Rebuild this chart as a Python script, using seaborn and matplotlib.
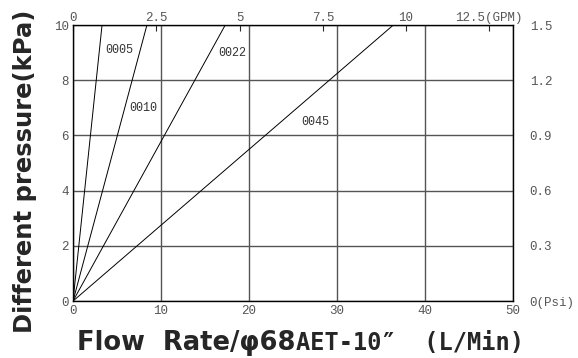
import pandas as pd
import matplotlib
matplotlib.use("Agg")
import matplotlib.pyplot as plt
import seaborn as sns

# curve names and flow (L/Min) reached at 10 kPa, all start at origin
models = ["0005", "0010", "0022", "0045"]
flow_at_top = [3.3, 8.4, 17.3, 36.4]
pressure = [0, 10]

x_ticks = [0, 10, 20, 30, 40, 50]
y_ticks = [0, 2, 4, 6, 8, 10]
gpm_ticks = [0, 2.5, 5, 7.5, 10, 12.5]
gpm_labels = ["0", "2.5", "5", "7.5", "10", "12.5(GPM)"]
psi_labels = ["0(Psi)", "0.3", "0.6", "0.9", "1.2", "1.5"]

# label positions next to each curve
label_x = [5.2, 8.0, 18.1, 27.5]
label_y = [9.1, 7.0, 9.0, 6.5]

rows = []
for m, f in zip(models, flow_at_top):
    rows.append({"model": m, "flow": 0, "kpa": pressure[0]})
    rows.append({"model": m, "flow": f, "kpa": pressure[1]})
df = pd.DataFrame(rows)

sns.set_style("white")
plt.rcParams['font.family'] = ['Liberation Mono', 'DejaVu Sans Mono']

fig = plt.figure(figsize=(5.78, 3.58), dpi=100)
ax = fig.add_axes([0.1263, 0.159, 0.7612, 0.771])

sns.lineplot(data=df, x="flow", y="kpa", units="model", estimator=None,
             color="black", lw=0.7, ax=ax, legend=False)

ax.set_xlim(0, 50)
ax.set_ylim(0, 10)
ax.set_xticks(x_ticks)
ax.set_yticks(y_ticks)
ax.grid(True, color="#555555", lw=1)
for s in ax.spines.values():
    s.set_color("black")
    s.set_linewidth(1)
ax.tick_params(axis="both", length=0, labelsize=9, labelcolor="#555555", pad=3)
ax.set_xlabel("")
ax.set_ylabel("")

for t, xx, yy in zip(models, label_x, label_y):
    ax.text(xx, yy, t, fontsize=8.5, color="#333333", ha="center", va="center")

lpm = 3.785
top = ax.secondary_xaxis("top", functions=(lambda v: v / lpm, lambda g: g * lpm))
top.set_xticks(gpm_ticks)
top.set_xticklabels(gpm_labels)
top.tick_params(direction="in", length=4, width=0.8, labelsize=9,
                labelcolor="#555555", pad=1)
top.spines["top"].set_visible(False)

right = ax.secondary_yaxis("right")
right.set_yticks(y_ticks)
right.set_yticklabels(psi_labels)
right.tick_params(length=0, labelsize=9, labelcolor="#555555", pad=12)
right.spines["right"].set_visible(False)

fig.text(25 / 578, 1 - 171 / 358, "Different pressure(kPa)", rotation=90,
         ha="center", va="center", fontsize=17.5, fontweight="bold",
         family="DejaVu Sans")
t1 = fig.text(77 / 578, 8 / 358, "Flow  Rate/φ68", ha="left", va="baseline",
              fontsize=18.5, fontweight="bold", family="DejaVu Sans")
fig.canvas.draw()
x_end = t1.get_window_extent().x1 / fig.bbox.width
fig.text(x_end, 8 / 358, "AET-10″  (L/Min)", ha="left", va="baseline",
         fontsize=17, fontweight="bold", family="DejaVu Sans Mono")

fig.savefig("out.png", dpi=100)
